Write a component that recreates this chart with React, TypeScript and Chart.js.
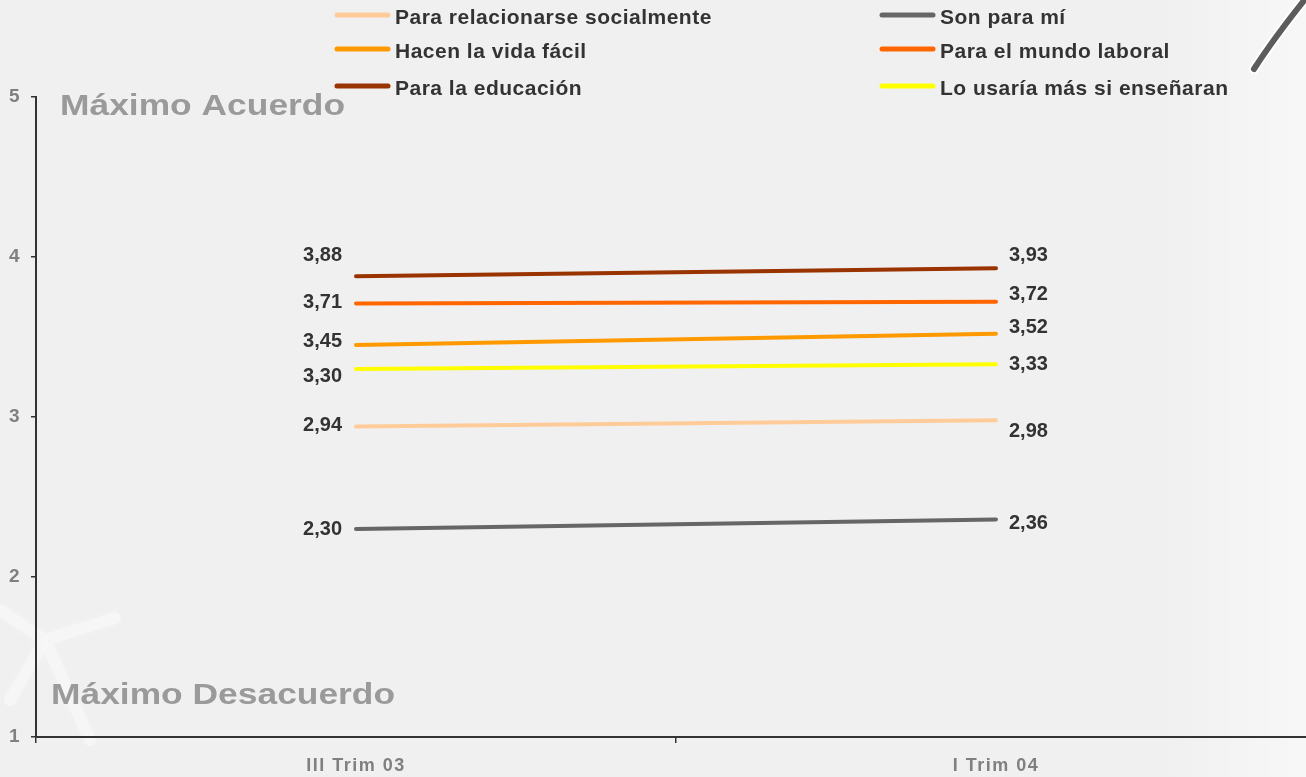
import { useEffect, useRef } from 'react';
import { Chart, registerables } from 'chart.js';

Chart.register(...registerables);

// Survey periods (x axis)
const periods = ['III Trim 03', 'I Trim 04'];

// Average agreement score per statement (1 = máximo desacuerdo, 5 = máximo acuerdo)
const socialValues = [2.94, 2.98];
const sonParaMiValues = [2.3, 2.36];
const vidaFacilValues = [3.45, 3.52];
const laboralValues = [3.71, 3.72];
const educacionValues = [3.88, 3.93];
const ensenaranValues = [3.3, 3.33];

const seriesNames = [
  'Para relacionarse socialmente',
  'Son para mí',
  'Hacen la vida fácil',
  'Para el mundo laboral',
  'Para la educación',
  'Lo usaría más si enseñaran',
];
const seriesValues = [socialValues, sonParaMiValues, vidaFacilValues, laboralValues, educacionValues, ensenaranValues];
const seriesColors = ['#FFCC99', '#666666', '#FF9900', '#FF6600', '#993300', '#FFFF00'];

// Axis range
const yMin = 1;
const yMax = 5;

// Vertical nudges (px) of the value labels so they do not collide: [first period, second period]
const labelNudges = [
  [-1, 11],
  [0, 4],
  [-4, -6],
  [-1, -7],
  [-21, -13],
  [7, 0],
];

const FONT = '"Liberation Sans", Arial, Helvetica, sans-serif';

// Legend layout: two columns, three rows
const legendCols = [335, 880];
const legendRows = [15, 49, 86];
const legendSwatch = 55;

// Draws text stretched horizontally, starting at x
function wideText(ctx: CanvasRenderingContext2D, text: string, x: number, y: number, sx: number) {
  ctx.save();
  ctx.translate(x, y);
  ctx.scale(sx, 1);
  ctx.fillText(text, 0, 0);
  ctx.restore();
}

const decorPlugin = {
  id: 'decor',
  beforeDraw(chart: any) {
    const { ctx, width, height } = chart;
    ctx.save();
    ctx.fillStyle = '#f0f0f0';
    ctx.fillRect(0, 0, width, height);
    const g = ctx.createLinearGradient(1160, 0, 1306, 0);
    g.addColorStop(0, 'rgba(255,255,255,0)');
    g.addColorStop(1, 'rgba(255,255,255,0.5)');
    ctx.fillStyle = g;
    ctx.fillRect(1160, 0, width - 1160, height);
    // faint light streaks at lower left
    ctx.strokeStyle = 'rgba(255,255,255,0.35)';
    ctx.shadowColor = 'rgba(255,255,255,0.6)';
    ctx.shadowBlur = 12;
    ctx.lineCap = 'round';
    ctx.lineWidth = 12;
    ctx.beginPath();
    ctx.moveTo(0, 610);
    ctx.lineTo(45, 640);
    ctx.lineTo(115, 618);
    ctx.moveTo(45, 640);
    ctx.lineTo(90, 740);
    ctx.moveTo(45, 640);
    ctx.lineTo(10, 700);
    ctx.stroke();
    ctx.restore();
    // spacing for axis tick labels
    ctx.letterSpacing = '1.5px';
  },
  beforeDatasetsDraw(chart: any) {
    chart.ctx.letterSpacing = '0px';
  },
  afterDatasetsDraw(chart: any) {
    const { ctx } = chart;
    const yScale = chart.scales.y;
    ctx.save();

    // Value labels beside each end point
    ctx.font = `bold 20px ${FONT}`;
    ctx.fillStyle = '#333333';
    ctx.textBaseline = 'middle';
    chart.data.datasets.forEach((ds: any, di: number) => {
      const meta = chart.getDatasetMeta(di);
      meta.data.forEach((pt: any, i: number) => {
        const txt = Number(ds.data[i]).toFixed(2).replace('.', ',');
        const dy = labelNudges[di][i];
        if (i === 0) {
          ctx.textAlign = 'right';
          ctx.fillText(txt, pt.x - 14, pt.y + dy);
        } else {
          ctx.textAlign = 'left';
          ctx.fillText(txt, pt.x + 13, pt.y + dy);
        }
      });
    });

    // Scale extremes
    ctx.font = `bold 29px ${FONT}`;
    ctx.fillStyle = '#9a9a9a';
    ctx.textAlign = 'left';
    ctx.textBaseline = 'alphabetic';
    wideText(ctx, 'Máximo Acuerdo', chart.chartArea.left + 24, yScale.getPixelForValue(yMax) + 18, 1.22);
    wideText(ctx, 'Máximo Desacuerdo', chart.chartArea.left + 15, yScale.getPixelForValue(yMin) - 33, 1.22);
    ctx.restore();
  },
  afterDraw(chart: any) {
    const { ctx } = chart;
    ctx.save();
    // Legend
    ctx.font = `bold 21px ${FONT}`;
    ctx.letterSpacing = '0.5px';
    ctx.textAlign = 'left';
    ctx.textBaseline = 'middle';
    chart.data.datasets.forEach((ds: any, i: number) => {
      const x = legendCols[i % 2];
      const y = legendRows[Math.floor(i / 2)];
      ctx.strokeStyle = ds.borderColor;
      ctx.lineWidth = 5;
      ctx.lineCap = 'round';
      ctx.beginPath();
      ctx.moveTo(x + 2, y);
      ctx.lineTo(x + legendSwatch - 2, y);
      ctx.stroke();
      ctx.fillStyle = '#333333';
      ctx.fillText(ds.label, x + legendSwatch + 5, y + 3);
    });

    // Pen stroke ornament at the top right
    ctx.lineCap = 'round';
    ctx.strokeStyle = '#ffffff';
    ctx.lineWidth = 10;
    ctx.beginPath();
    ctx.moveTo(1254, 69);
    ctx.quadraticCurveTo(1274, 38, 1306, -2);
    ctx.stroke();
    ctx.strokeStyle = '#5c5c5c';
    ctx.lineWidth = 6;
    ctx.beginPath();
    ctx.moveTo(1254, 69);
    ctx.quadraticCurveTo(1274, 38, 1306, -2);
    ctx.stroke();
    ctx.restore();
  },
};

export default function App() {
  const canvasRef = useRef<HTMLCanvasElement | null>(null);

  useEffect(() => {
    const canvas = canvasRef.current;
    if (!canvas) return;
    const chart = new Chart(canvas, {
      type: 'line',
      data: {
        labels: periods,
        datasets: seriesNames.map((name, i) => ({
          label: name,
          data: seriesValues[i],
          borderColor: seriesColors[i],
          backgroundColor: seriesColors[i],
          borderWidth: 4,
          borderCapStyle: 'round',
          pointRadius: 0,
          pointHoverRadius: 0,
          tension: 0,
          fill: false,
        })),
      },
      options: {
        responsive: false,
        animation: false,
        events: [],
        layout: { padding: { top: 97, right: 14, left: 0, bottom: 0 } },
        plugins: {
          legend: { display: false },
          tooltip: { enabled: false },
          title: { display: false },
        },
        scales: {
          x: {
            type: 'category',
            offset: true,
            grid: {
              offset: true,
              drawOnChartArea: false,
              drawTicks: true,
              tickLength: 6,
              color: '#333333',
              lineWidth: 1.5,
            },
            border: { display: true, color: '#333333', width: 2 },
            ticks: {
              color: '#808080',
              font: { family: FONT, size: 18, weight: 'bold' },
              padding: 12,
              maxRotation: 0,
            },
            afterFit(scale: any) {
              scale.height = 40;
            },
          },
          y: {
            min: yMin,
            max: yMax,
            ticks: {
              stepSize: 1,
              color: '#808080',
              font: { family: FONT, size: 19, weight: 'bold' },
              padding: 10,
            },
            grid: {
              drawOnChartArea: false,
              drawTicks: true,
              tickLength: 5,
              color: '#333333',
              lineWidth: 1.5,
            },
            border: { display: true, color: '#333333', width: 2 },
            afterFit(scale: any) {
              scale.width = 36;
            },
          },
        },
      },
      plugins: [decorPlugin],
    } as any);
    return () => chart.destroy();
  }, []);

  return (
    <div
      style={{
        position: 'fixed',
        left: 0,
        top: 0,
        width: 1306,
        height: 777,
        overflow: 'hidden',
        background: '#f0f0f0',
      }}
    >
      <canvas ref={canvasRef} width={1330} height={777} style={{ width: 1330, height: 777, display: 'block' }} />
    </div>
  );
}
